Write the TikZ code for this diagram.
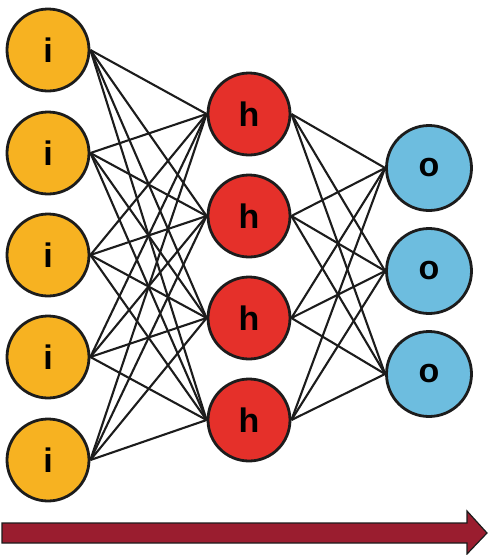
\documentclass[tikz,border=0pt]{standalone}
\usepackage{fontspec}
\setmainfont{Liberation Sans}
\usetikzlibrary{backgrounds}
\definecolor{inyellow}{HTML}{F7B221}
\definecolor{hidred}{HTML}{E5302A}
\definecolor{outblue}{HTML}{6DBDDF}
\definecolor{flowred}{HTML}{9A1D2F}
\definecolor{rim}{HTML}{1C1C1C}
\tikzset{
  neuron/.style={circle, draw=rim, line width=2.8pt, minimum size=82pt, inner sep=0pt,
    font=\fontsize{34}{34}\selectfont\bfseries},
  innode/.style={neuron, fill=inyellow},
  hidnode/.style={neuron, fill=hidred},
  outnode/.style={neuron, fill=outblue, minimum size=85pt},
  link/.style={draw=rim, line width=2.1pt},
  flow/.style={fill=flowred, draw=rim, line width=1.2pt}
}
\begin{document}
\begin{tikzpicture}[x=1pt,y=-1pt]
\useasboundingbox (0,0) rectangle (488,555);
% input, hidden and output neurons
\foreach \k/\y in {1/50,2/153,3/255,4/357,5/460}
  \node[innode] (i\k) at (48,\y) {i};
\foreach \k/\y in {1/114,2/216,3/318,4/420}
  \node[hidnode] (h\k) at (249,\y) {h};
\foreach \k/\y in {1/168,2/271,3/374}
  \node[outnode] (o\k) at (429,\y) {o};
% full connections between consecutive layers, behind the neurons
\begin{scope}[on background layer]
\foreach \a in {1,...,5}
  \foreach \b in {1,...,4}
    \draw[link] (i\a.east) -- (h\b.west);
\foreach \a in {1,...,4}
  \foreach \b in {1,...,3}
    \draw[link] (h\a.east) -- (o\b.west);
\end{scope}
% direction of flow
\draw[flow] (2,523) -- (467,523) -- (467,511) -- (487,533) -- (467,554) -- (467,543) -- (2,543) -- cycle;
\end{tikzpicture}
\end{document}
